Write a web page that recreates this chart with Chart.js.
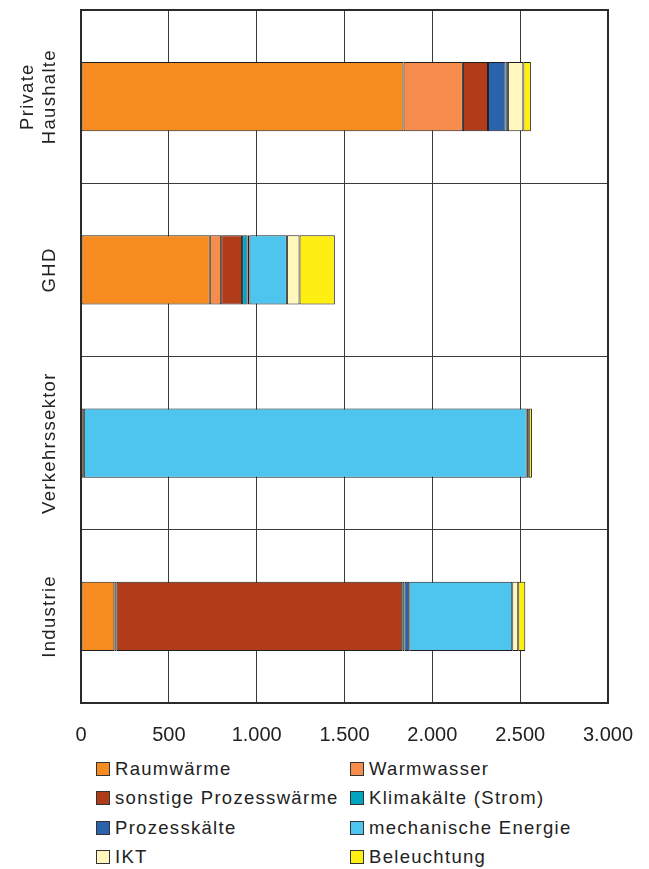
<!DOCTYPE html>
<html lang="de">
<head>
<meta charset="utf-8">
<title>Endenergieverbrauch nach Sektoren und Anwendungen</title>
<script src="https://cdn.jsdelivr.net/npm/chart.js@4.4.1/dist/chart.umd.min.js"></script>
<style>
  body { margin: 0; background: #fff; }
  #wrap { position: relative; width: 649px; height: 869px; font-family: "Liberation Sans", Arial, sans-serif; color: #222; }
  #chart { position: absolute; left: 0; top: 0; }
  .legend-item { position: absolute; height: 24px; display: flex; align-items: center; font-size: 18.5px; letter-spacing: 1.3px; white-space: nowrap; }
  .legend-item span.box { width: 12px; height: 12px; border: 1px solid #333; margin-right: 5px; flex: none; }
</style>
</head>
<body>
<div id="wrap">
  <canvas id="chart" width="649" height="750"></canvas>
  <div id="legend"></div>
</div>
<script>
// Sektoren (von oben nach unten)
const sectors = [['Private', 'Haushalte'], ['GHD'], ['Verkehrssektor'], ['Industrie']];

// Anwendungen, Werte je Sektor
const raumwaerme    = [1836, 733,   16,  190];
const warmwasser    = [ 338,  65,    0,   13];
const prozesswaerme = [ 143, 119,    0, 1626];
const klimakaelte   = [   0,  31,    0,   13];
const prozesskaelte = [ 100,  11,    0,   27];
const mechanisch    = [  13, 213, 2521,  586];
const ikt           = [  88,  72,   12,   34];
const beleuchtung   = [  43, 201,   18,   40];

const xTicks = [0, 500, 1000, 1500, 2000, 2500, 3000];

const series = [
    { label: 'Raumwärme',              data: raumwaerme,    color: '#F68B1F' },
    { label: 'Warmwasser',             data: warmwasser,    color: '#F68D4D' },
    { label: 'sonstige Prozesswärme',  data: prozesswaerme, color: '#B13C1A' },
    { label: 'Klimakälte (Strom)',     data: klimakaelte,   color: '#00A6C0' },
    { label: 'Prozesskälte',           data: prozesskaelte, color: '#2B62AC' },
    { label: 'mechanische Energie',    data: mechanisch,    color: '#4DC5EF' },
    { label: 'IKT',                    data: ikt,           color: '#FFF7BD' },
    { label: 'Beleuchtung',            data: beleuchtung,   color: '#FFEE11' }
];

const FONT = '"Liberation Sans", Arial, sans-serif';

// rotated sector names left of the plot
const sectorLabels = {
    id: 'sectorLabels',
    afterDraw(chart) {
        const ctx = chart.ctx;
        const yScale = chart.scales.y;
        ctx.save();
        ctx.fillStyle = '#222';
        ctx.font = '18.5px ' + FONT;
        ctx.letterSpacing = '1.3px';
        ctx.textAlign = 'center';
        ctx.textBaseline = 'alphabetic';
        sectors.forEach((lines, i) => {
            const y = yScale.getPixelForValue(i);
            ctx.save();
            ctx.translate(55, y);
            ctx.rotate(-Math.PI / 2);
            lines.forEach((line, j) => {
                ctx.fillText(line, 0, -(lines.length - 1 - j) * 22);
            });
            ctx.restore();
        });
        ctx.restore();
    }
};

// heavier frame around the plot area
const plotFrame = {
    id: 'plotFrame',
    afterDraw(chart) {
        const { left, top, width, height } = chart.chartArea;
        const ctx = chart.ctx;
        ctx.save();
        ctx.strokeStyle = '#2a2a2a';
        ctx.lineWidth = 2;
        ctx.strokeRect(left, top, width, height);
        ctx.restore();
    }
};

const ctx = document.getElementById('chart').getContext('2d');
const chart = new Chart(ctx, {
    type: 'bar',
    data: {
        labels: sectors.map(s => s.join(' ')),
        datasets: series.map(s => ({
            label: s.label,
            data: s.data,
            backgroundColor: s.color,
            borderColor: '#1e1e1e',
            borderWidth: 1,
            borderSkipped: false,
            barPercentage: 0.4,
            categoryPercentage: 1
        }))
    },
    options: {
        indexAxis: 'y',
        responsive: false,
        animation: false,
        layout: { padding: { left: 81, top: 10, right: 41, bottom: 2 } },
        plugins: {
            legend: { display: false },
            tooltip: { enabled: false }
        },
        scales: {
            x: {
                stacked: true,
                min: 0,
                max: 3000,
                afterBuildTicks: scale => { scale.ticks = xTicks.map(v => ({ value: v })); },
                afterFit: scale => {
                    scale.height = 45;
                    // the layout padding already leaves room for the end labels
                    scale.paddingLeft = 0;
                    scale.paddingRight = 0;
                },
                ticks: {
                    padding: 20,
                    color: '#222',
                    font: { family: FONT, size: 20 },
                    callback: v => v.toLocaleString('de-DE')
                },
                grid: { color: '#3a3a3a', lineWidth: 1, drawTicks: false },
                border: { color: '#2a2a2a', width: 2 }
            },
            y: {
                stacked: true,
                afterFit: scale => { scale.width = 0; },
                ticks: { display: false },
                grid: { color: '#3a3a3a', lineWidth: 1, drawTicks: false, offset: true },
                border: { color: '#2a2a2a', width: 2 }
            }
        }
    },
    plugins: [sectorLabels, plotFrame]
});

// legend in two columns below the chart
const legend = document.getElementById('legend');
const colX = [96, 350];
const rowY = [768.5, 798, 827.5, 856.5];
chart.data.datasets.forEach((ds, i) => {
    const item = document.createElement('div');
    item.className = 'legend-item';
    item.style.left = colX[i % 2] + 'px';
    item.style.top = (rowY[Math.floor(i / 2)] - 12) + 'px';
    item.innerHTML = `<span class="box" style="background:${ds.backgroundColor}"></span>${ds.label}`;
    legend.appendChild(item);
});
</script>
</body>
</html>
